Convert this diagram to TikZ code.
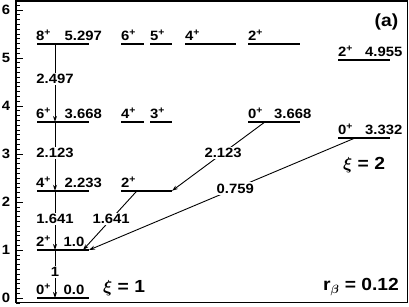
\documentclass[tikz,border=0pt]{standalone}
\usepackage{fontspec}
\setmainfont{Liberation Sans}[FakeStretch=1.1]
\usetikzlibrary{arrows.meta}
\begin{document}
\begin{tikzpicture}[x=1pt,y=-1pt,
  lvl/.style={line width=1.9pt},
  tr/.style={line width=0.9pt,-{Stealth[length=6pt,width=4pt]}},
  lab/.style={font=\fontsize{13.5}{15}\selectfont\bfseries, inner sep=0pt, anchor=base west},
  tl/.style={font=\fontsize{13.5}{15}\selectfont\bfseries, fill=white, inner sep=1.5pt},
  ax/.style={font=\fontsize{13.5}{15}\selectfont\bfseries, inner sep=0pt},
  big/.style={font=\fontsize{17.5}{20}\selectfont\bfseries\boldmath, inner sep=0pt}]
\useasboundingbox (0,0) rectangle (409,307);
% frame and axis
\draw[line width=1.6pt] (16,1) rectangle (407.5,302.5);
\foreach \i in {-1,...,62} \draw[line width=0.6pt] (16,{298-4.8*\i}) -- ++(3.5,0);
\foreach \v in {0,...,6} {
  \draw[line width=0.8pt] (16,{298-48*\v}) -- ++(7,0);
  \node[ax] (t\v) at (6,{298-48*\v}) {\v};
}
% level coordinates
\coordinate (a8l) at (37,43.7);  \coordinate (a8r) at (89,43.7);
\coordinate (a6l) at (37,121.9); \coordinate (a6r) at (89,121.9);
\coordinate (a4l) at (37,190.8); \coordinate (a4r) at (89,190.8);
\coordinate (a2l) at (37,250);   \coordinate (a2r) at (89,250);
\coordinate (a0l) at (37,298);   \coordinate (a0r) at (89,298);
\coordinate (b6l) at (121,43.7); \coordinate (b6r) at (144,43.7);
\coordinate (b4l) at (121,121.9);\coordinate (b4r) at (144,121.9);
\coordinate (c5l) at (150,43.7); \coordinate (c5r) at (172,43.7);
\coordinate (c3l) at (150,121.9);\coordinate (c3r) at (172,121.9);
\coordinate (d4l) at (185,43.7); \coordinate (d4r) at (236,43.7);
\coordinate (e2l) at (248,43.7); \coordinate (e2r) at (300,43.7);
\coordinate (e0l) at (248,121.9);\coordinate (e0r) at (300,121.9);
\coordinate (f2l) at (121,190.8);\coordinate (f2r) at (172,190.8);
\coordinate (g2l) at (338,60.2); \coordinate (g2r) at (390,60.2);
\coordinate (g0l) at (338,138);  \coordinate (g0r) at (390,138);
% level lines
\foreach \n in {a8,a6,a4,a2,a0,b6,b4,c5,c3,d4,e2,e0,f2,g2,g0}
  \draw[lvl] (\n l) -- (\n r);
% level labels
\node[lab] (s8) at (36,40.5) {8\textsuperscript{+}};
\node[lab] (e8) at (64.5,40.5) {5.297};
\node[lab] (s6) at (36,118.7) {6\textsuperscript{+}};
\node[lab] (e6) at (64.5,118.7) {3.668};
\node[lab] (s4) at (36,187.6) {4\textsuperscript{+}};
\node[lab] (e4) at (64.5,187.6) {2.233};
\node[lab] (s2) at (36,246.8) {2\textsuperscript{+}};
\node[lab] (e2) at (63.5,246.8) {1.0};
\node[lab] (s0) at (36,294.8) {0\textsuperscript{+}};
\node[lab] (e0) at (63.5,294.8) {0.0};
\node[lab] (sb6) at (121,40.5) {6\textsuperscript{+}};
\node[lab] (sb4) at (121,118.7) {4\textsuperscript{+}};
\node[lab] (sc5) at (150,40.5) {5\textsuperscript{+}};
\node[lab] (sc3) at (150,118.7) {3\textsuperscript{+}};
\node[lab] (sd4) at (185,40.5) {4\textsuperscript{+}};
\node[lab] (se2) at (248,40.5) {2\textsuperscript{+}};
\node[lab] (se0) at (248,118.7) {0\textsuperscript{+}};
\node[lab] (ee0) at (274,118.7) {3.668};
\node[lab] (sf2) at (121,187.6) {2\textsuperscript{+}};
\node[lab] (sg2) at (338,57) {2\textsuperscript{+}};
\node[lab] (eg2) at (365,57) {4.955};
\node[lab] (sg0) at (338,134.8) {0\textsuperscript{+}};
\node[lab] (eg0) at (365,134.8) {3.332};
% transition start points
\coordinate (p86) at (55,43.7);  \coordinate (q86) at (55,121.9);
\coordinate (p64) at (55,121.9); \coordinate (q64) at (55,190.8);
\coordinate (p42) at (55,190.8); \coordinate (q42) at (55,250);
\coordinate (p20) at (55,250);   \coordinate (q20) at (55,298);
\coordinate (pe) at (265,121.9);
\coordinate (pf) at (137,190.8); \coordinate (qf) at (83,250);
\coordinate (pg) at (355,138);
% transitions
\draw[tr] (p86) -- node[tl,pos=0.45] {2.497} (q86);
\draw[tr] (p64) -- node[tl,pos=0.45] {2.123} (q64);
\draw[tr] (p42) -- node[tl,pos=0.48] {1.641} (q42);
\draw[tr] (p20) -- node[tl,pos=0.46] {1} (q20);
\draw[tr] (pe) -- node[tl,pos=0.45] {2.123} (f2r);
\draw[tr] (pf) -- node[tl,pos=0.48] {1.641} (qf);
\draw[tr] (pg) -- node[tl,pos=0.45] {0.759} (a2r);
% annotations
\node[big] (xi1) at (124,288) {$\xi$ = 1};
\node[big] (xi2) at (364,165) {$\xi$ = 2};
\node[big] (rb) at (361,287) {r$_\beta$ = 0.12};
\node[big] (pa) at (386.5,21.7) {(a)};
\end{tikzpicture}
\end{document}
